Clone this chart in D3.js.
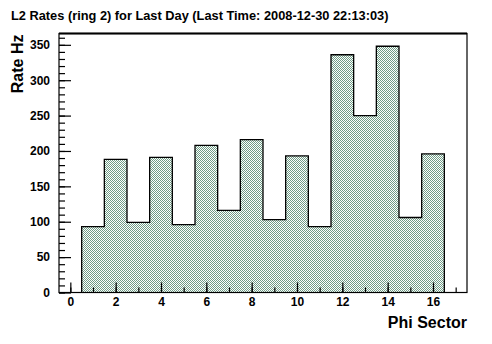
<!DOCTYPE html>
<html>
<head>
<meta charset="utf-8">
<script src="https://cdn.jsdelivr.net/npm/d3@7"></script>
<style>
  html, body { margin: 0; padding: 0; background: #fff; }
  svg { display: block; }
  text { font-family: "Liberation Sans", Arial, Helvetica, sans-serif; font-weight: bold; fill: #000; }
</style>
</head>
<body>
<svg id="chart" width="492" height="344"></svg>
<script>
// ---- data ----
const titleText = "L2 Rates (ring 2) for Last Day (Last Time: 2008-12-30 22:13:03)";
const xLabel = "Phi Sector";
const yLabel = "Rate Hz";
const sectors = [1, 2, 3, 4, 5, 6, 7, 8, 9, 10, 11, 12, 13, 14, 15, 16];
const rates = [93, 188, 99, 191, 96, 208, 116, 216, 103, 193, 93, 336, 250, 348, 106, 196];
const xMajorTicks = [0, 2, 4, 6, 8, 10, 12, 14, 16];
const yMajorTicks = [0, 50, 100, 150, 200, 250, 300, 350];

// ---- layout ----
const svg = d3.select("#chart");
const pLeft = 59, pRight = 467, pTop = 33.5, pBottom = 292.5;

const x = d3.scaleLinear().domain([-0.5, 17.5]).range([pLeft, pRight]);
const y = d3.scaleLinear().domain([0, 366]).range([pBottom, pTop]);

// pattern fill (ROOT-like checker)
const defs = svg.append("defs");
const pat = defs.append("pattern")
  .attr("id", "chk").attr("patternUnits", "userSpaceOnUse")
  .attr("width", 2).attr("height", 2);
pat.append("rect").attr("width", 2).attr("height", 2).attr("fill", "#ffffff");
pat.append("rect").attr("x", 0).attr("y", 0).attr("width", 1).attr("height", 1).attr("fill", "#6f9c86");
pat.append("rect").attr("x", 1).attr("y", 1).attr("width", 1).attr("height", 1).attr("fill", "#6f9c86");

// histogram outline points
const pts = [];
sectors.forEach((s, i) => {
  pts.push([s - 0.5, i === 0 ? 0 : rates[i - 1]]);
  pts.push([s - 0.5, rates[i]]);
});
pts.push([sectors[sectors.length - 1] + 0.5, rates[rates.length - 1]]);
pts.push([sectors[sectors.length - 1] + 0.5, 0]);

const line = d3.line().x(d => x(d[0])).y(d => y(d[1]));
svg.append("path")
  .attr("d", line(pts) + "Z")
  .attr("fill", "url(#chk)")
  .attr("stroke", "none")
  .attr("shape-rendering", "crispEdges");
svg.append("path")
  .attr("d", line(pts))
  .attr("fill", "none")
  .attr("stroke", "#000")
  .attr("stroke-width", 1.3);

// ---- axes ----
const yMinor = d3.range(0, 361, 10);
const xMinor = d3.range(0, 18, 1);

svg.append("g").attr("transform", `translate(${pLeft},0)`)
  .call(d3.axisLeft(y).tickValues(yMinor).tickSize(-6).tickFormat(""));
svg.append("g").attr("transform", `translate(${pLeft},0)`)
  .call(d3.axisLeft(y).tickValues(yMajorTicks).tickSize(-12).tickPadding(9).tickFormat(d3.format("d")));
svg.append("g").attr("transform", `translate(0,${pBottom})`)
  .call(d3.axisBottom(x).tickValues(xMinor).tickSize(-5).tickFormat(""));
svg.append("g").attr("transform", `translate(0,${pBottom})`)
  .call(d3.axisBottom(x).tickValues(xMajorTicks).tickSize(-10).tickPadding(5).tickFormat(d3.format("d")));

svg.selectAll(".domain").remove();
svg.selectAll(".tick line").attr("stroke", "#000").attr("stroke-width", 1.2);
svg.selectAll(".tick text").style("font-size", "12px").style("font-family", "'Liberation Sans', Arial, sans-serif").style("font-weight", "bold");

// frame
svg.append("rect")
  .attr("x", pLeft).attr("y", pTop).attr("width", pRight - pLeft).attr("height", pBottom - pTop)
  .attr("fill", "none").attr("stroke", "#000").attr("stroke-width", 1.2);
svg.append("line").attr("x1", pLeft).attr("x2", pRight).attr("y1", pTop).attr("y2", pTop)
  .attr("stroke", "#000").attr("stroke-width", 2);

// ---- text ----
svg.append("text").attr("x", 11).attr("y", 20)
  .style("font-size", "12.8px").text(titleText);
svg.append("text").attr("x", pRight).attr("y", 328)
  .attr("text-anchor", "end").style("font-size", "16px").text(xLabel);
svg.append("text")
  .attr("transform", `translate(23,${pTop + 1}) rotate(-90)`)
  .attr("text-anchor", "end").style("font-size", "16px").text(yLabel);
</script>
</body>
</html>
